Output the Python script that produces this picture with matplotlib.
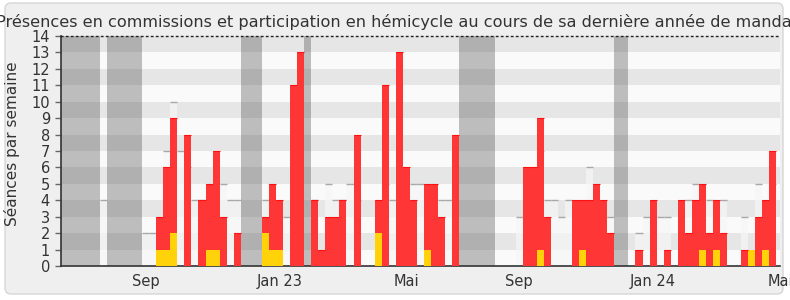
# -*- coding: utf-8 -*-
"""Activité hebdomadaire : présences en commission (jaune), participation
en hémicycle (rouge), présences (gris clair), vacances parlementaires (bandes)."""

import numpy as np
import matplotlib
matplotlib.use("Agg")
import matplotlib.pyplot as plt
from matplotlib.patches import FancyBboxPatch
from matplotlib.transforms import IdentityTransform

# semaines 0..101
hemicycle = [
    0, 0, 0, 0, 0, 0, 0, 0, 0, 0,
    0, 0, 0, 0, 2, 5, 7, 0, 8, 0,
    4, 4, 6, 3, 0, 2, 0, 0, 0, 1,
    4, 3, 0, 11, 13, 0, 4, 1, 3, 3,
    4, 0, 8, 0, 0, 2, 11, 0, 13, 6,
    4, 0, 4, 5, 3, 0, 8, 0, 0, 0,
    0, 0, 0, 0, 0, 0, 6, 6, 8, 3,
    0, 0, 0, 4, 3, 4, 5, 4, 2, 0,
    0, 0, 1, 0, 4, 0, 1, 0, 4, 2,
    4, 4, 2, 3, 2, 0, 0, 1, 0, 3,
    3, 7,
]
commission = [
    0, 0, 0, 0, 0, 0, 0, 0, 0, 0,
    0, 0, 0, 0, 1, 1, 2, 0, 0, 0,
    0, 1, 1, 0, 0, 0, 0, 0, 0, 2,
    1, 1, 0, 0, 0, 0, 0, 0, 0, 0,
    0, 0, 0, 0, 0, 2, 0, 0, 0, 0,
    0, 0, 1, 0, 0, 0, 0, 0, 0, 0,
    0, 0, 0, 0, 0, 0, 0, 0, 1, 0,
    0, 0, 0, 0, 1, 0, 0, 0, 0, 0,
    0, 0, 0, 0, 0, 0, 0, 0, 0, 0,
    0, 1, 0, 1, 0, 0, 0, 0, 1, 0,
    1, 0,
]
presence = [
    0, 0, 0, 0, 0, 0, 4, 0, 0, 0,
    0, 0, 2, 2, 0, 7, 10, 7, 6, 4,
    4, 0, 0, 5, 4, 4, 0, 0, 0, 4,
    0, 0, 3, 9, 12, 0, 4, 0, 5, 4,
    4, 5, 4, 0, 0, 0, 5, 4, 4, 0,
    5, 5, 0, 0, 4, 4, 6, 0, 0, 0,
    0, 0, 0, 0, 0, 3, 5, 5, 7, 4,
    4, 3, 4, 0, 0, 6, 0, 3, 3, 0,
    0, 0, 2, 3, 0, 3, 3, 0, 0, 4,
    5, 0, 4, 0, 4, 0, 0, 3, 0, 5,
    0, 5,
]
# vacances parlementaires (première et dernière semaine)
vacances = [(0, 5), (7, 11), (26, 28), (35, 35), (57, 61), (79, 80)]
mois_pos = [12, 31, 49, 65, 84, 102]
mois = ["Sep", "Jan 23", "Mai", "Sep", "Jan 24", "Mai"]

weeks = np.arange(len(hemicycle))
hemicycle = np.array(hemicycle)
commission = np.array(commission)
presence = np.array(presence)

TXT = "#333333"
fig = plt.figure(figsize=(7.9, 3.0), dpi=100, facecolor="white")
fig.patches.append(FancyBboxPatch(
    (5, 6), 778, 291, boxstyle="round,pad=0,rounding_size=6",
    transform=IdentityTransform(), facecolor="#efefef",
    edgecolor="#d6d6d6", linewidth=1.0, zorder=-1, figure=fig))

ax = fig.add_axes([61 / 790, 1 - 266 / 300, 719 / 790, 230 / 300])
ax.set_facecolor("none")

# bandes horizontales
for k in range(14):
    ax.axhspan(k, k + 1, color="#e6e6e6" if k % 2 else "#fafafa",
               lw=0, zorder=0)

for a, b in vacances:
    ax.axvspan(a - 0.5, b + 0.5, color="#333333", alpha=0.3, lw=0, zorder=1)

# présences (gris clair)
ax.bar(weeks, presence, width=1.0, color="#f6f6f6", alpha=0.7,
       lw=0, zorder=2)
m = presence > 0
ax.hlines(presence[m], weeks[m] - 0.5, weeks[m] + 0.5, color="#a8a8a8",
          lw=1.0, zorder=2.5)

ax.bar(weeks, commission, width=1.0, color="#ffd20a", lw=0, zorder=3)
ax.bar(weeks, hemicycle, bottom=commission, width=1.0, color="#ff3636",
       lw=0, zorder=3)
r = hemicycle > 0
ax.hlines((hemicycle + commission)[r], weeks[r] - 0.5, weeks[r] + 0.5,
          color="#ff1010", lw=0.8, zorder=3.5)

ax.set_xlim(0, 102)
ax.set_ylim(0, 14)
ax.set_yticks(range(15))
ax.set_xticks(mois_pos)
ax.set_xticklabels(mois)
ax.tick_params(axis="y", length=4, width=1, color="#666666", pad=4,
               labelsize=10.5, labelcolor=TXT)
ax.tick_params(axis="x", length=0, pad=6, labelsize=10.5, labelcolor=TXT)

for s in ("left", "bottom"):
    ax.spines[s].set_color(TXT)
    ax.spines[s].set_linewidth(1.2)
ax.spines["right"].set_visible(False)
ax.spines["top"].set_color("#222222")
ax.spines["top"].set_linestyle((0, (1, 2.6)))
ax.spines["top"].set_linewidth(1.0)

fig.text(12.5 / 790, 1 - 144 / 300, "Séances par semaine", rotation=90,
         ha="center", va="center", fontsize=11, color=TXT)
fig.text(0.503, 1 - 26.7 / 300,
         "Présences en commissions et participation en hémicycle au cours "
         "de sa dernière année de mandat",
         ha="center", va="baseline", fontsize=11.6, color=TXT)

fig.savefig("out.png", dpi=100, facecolor=fig.get_facecolor())
